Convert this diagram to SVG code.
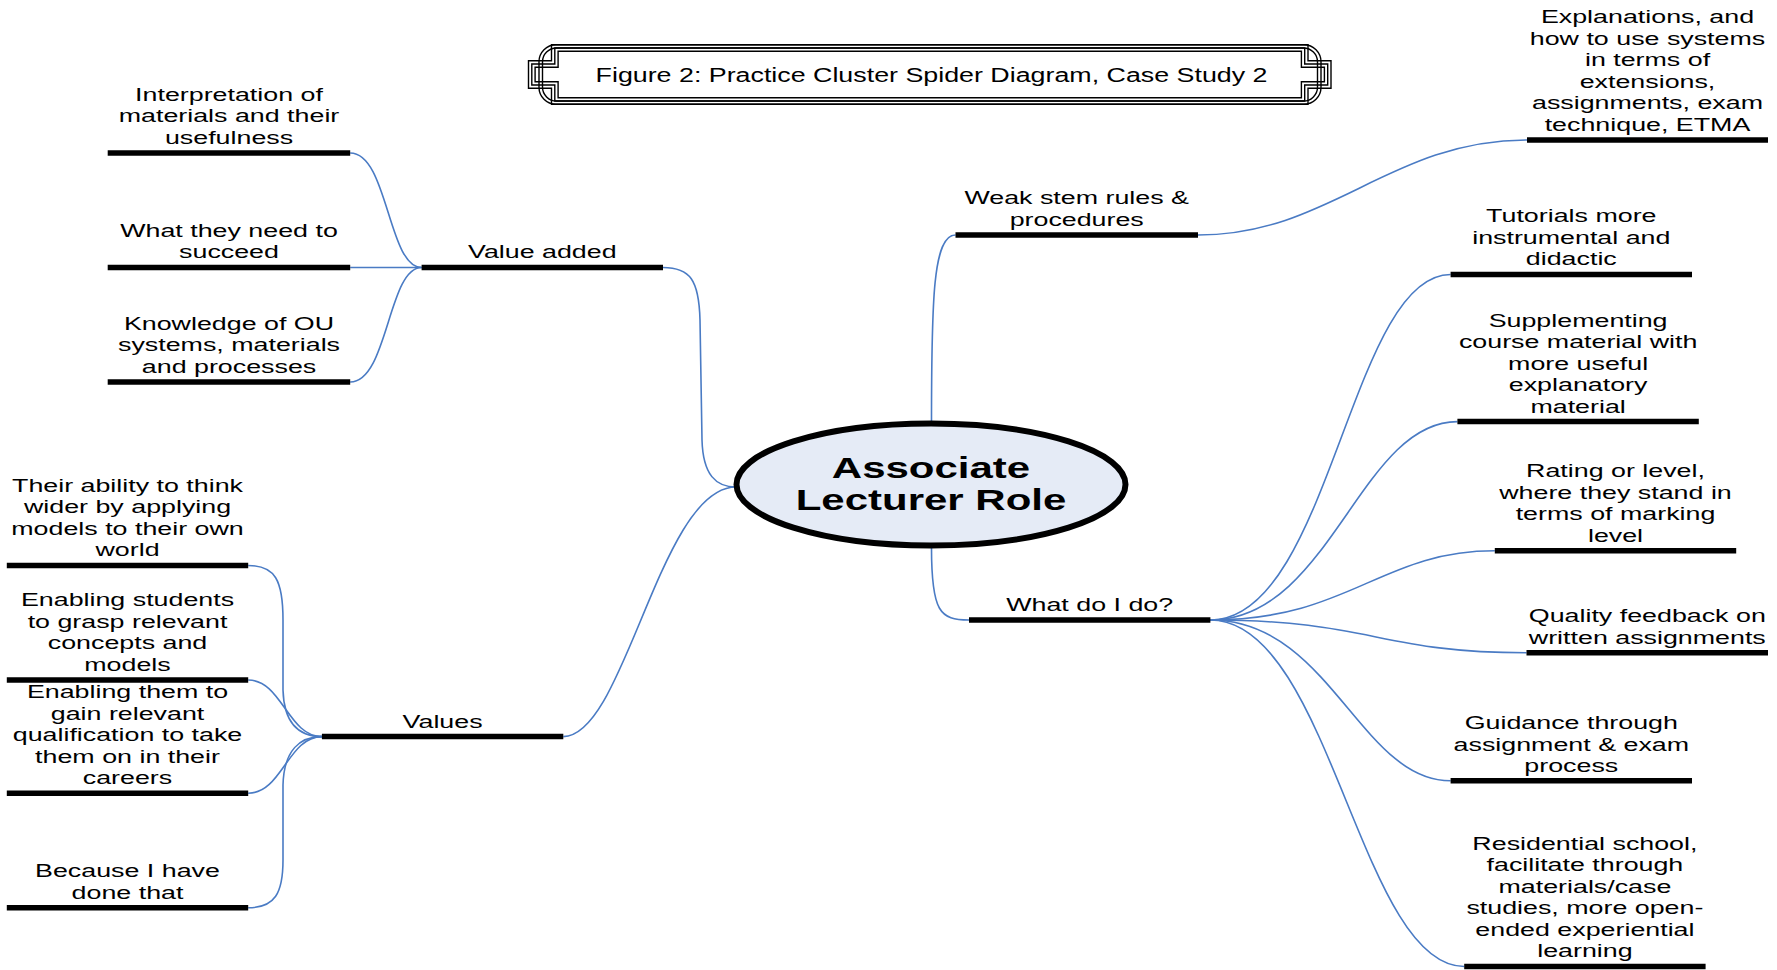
<svg xmlns="http://www.w3.org/2000/svg" width="1777" height="970" viewBox="0 0 1777 970">
<style>
.t{font-family:"Liberation Sans",Arial,sans-serif;font-size:18.5px;fill:#000;text-anchor:middle}
.c{font-family:"Liberation Sans",Arial,sans-serif;font-size:30px;font-weight:bold;fill:#000;text-anchor:middle}
.ti{font-family:"Liberation Sans",Arial,sans-serif;font-size:19.5px;fill:#000;text-anchor:middle}
.bar{stroke:#000;stroke-width:5.5;fill:none}
.fr{stroke:#000;stroke-width:1.4;fill:none;stroke-linejoin:miter}
#connectors path{fill:none;stroke:#4A7BC4;stroke-width:1.6}
</style>
<rect width="1777" height="970" fill="#fff"/>

<g id="title">
<polygon class="fr" points="551.5,44.7 1308,44.7 1308,60.7 1331,60.7 1331,88.3 1308,88.3 1308,104.3 551.5,104.3 551.5,88.3 528.5,88.3 528.5,60.7 551.5,60.7"/>
<polygon class="fr" points="554.8,48 1304.7,48 1304.7,64 1327.7,64 1327.7,85 1304.7,85 1304.7,101 554.8,101 554.8,85 531.8,85 531.8,64 554.8,64"/>
<polygon class="fr" points="558.1,51.3 1301.4,51.3 1301.4,67.3 1324.4,67.3 1324.4,81.7 1301.4,81.7 1301.4,97.7 558.1,97.7 558.1,81.7 535.1,81.7 535.1,67.3 558.1,67.3"/>
<rect class="fr" x="539" y="44.7" width="782" height="59.6" rx="17" ry="17"/>
<rect class="fr" x="542.5" y="48" width="775" height="53" rx="14" ry="14"/>
<text class="ti" transform="translate(931.5 0) scale(1.375 1)"><tspan x="0" y="82">Figure 2: Practice Cluster Spider Diagram, Case Study 2</tspan></text>
</g>

<g id="connectors">
<path d="M931.5,423 C931.5,300 933,235 955.5,235"/>
<path d="M1198,235 C1330,235 1390,140 1527,140"/>
<path d="M931.5,548 C931.5,612 940,620 969,620"/>
<path d="M663,267.5 C690,267.5 699,280 700,320 L702,440 C703,475 716,487 736,487"/>
<path d="M563.3,736.6 C625,736.6 660,487 736,487"/>
<path d="M350.2,153 C388,153 388,267.5 421.6,267.5"/>
<path d="M350.2,267.5 L421.6,267.5"/>
<path d="M350.2,382 C388,382 388,267.5 421.6,267.5"/>
<path d="M248.2,565.5 C275,565.5 283,580 283,620 L283,690 C284,725 300,736.6 321.9,736.6"/>
<path d="M248.2,680 C282,680 288,736.6 321.9,736.6"/>
<path d="M248.2,793.3 C282,793.3 288,736.6 321.9,736.6"/>
<path d="M248.2,907.8 C275,907.8 283,893 283,860 L283,785 C284,750 300,736.6 321.9,736.6"/>
<path d="M1210.4,620 C1330,620 1350,274.5 1450.6,274.5"/>
<path d="M1210.4,620 C1330,620 1360,421.6 1457.4,421.6"/>
<path d="M1210.4,620 C1350,620 1380,550.8 1494.8,550.8"/>
<path d="M1210.4,620 C1370,620 1380,652.8 1526.5,652.8"/>
<path d="M1210.4,620 C1330,620 1360,780.8 1450.6,780.8"/>
<path d="M1210.4,620 C1330,620 1360,966.5 1464.2,966.5"/>
</g>

<g id="center">
<ellipse cx="931" cy="484.5" rx="194.5" ry="61" fill="#E5EBF6" stroke="#000" stroke-width="6"/>
<text class="c" transform="translate(931 0) scale(1.4 1)"><tspan x="0" y="478.5">Associate</tspan><tspan x="0" y="510">Lecturer Role</tspan></text>
</g>

<g id="weak-stem">
<line class="bar" x1="955.5" y1="235" x2="1198" y2="235"/>
<text class="t" transform="translate(1076.7 0) scale(1.45 1)"><tspan x="0" y="204.5">Weak stem rules &amp;</tspan><tspan x="0" y="226">procedures</tspan></text>
</g>

<g id="explanations">
<line class="bar" x1="1527" y1="140" x2="1768" y2="140"/>
<text class="t" transform="translate(1647.5 0) scale(1.45 1)"><tspan x="0" y="23.5">Explanations, and</tspan><tspan x="0" y="45">how to use systems</tspan><tspan x="0" y="66.5">in terms of</tspan><tspan x="0" y="88">extensions,</tspan><tspan x="0" y="109.5">assignments, exam</tspan><tspan x="0" y="131">technique, ETMA</tspan></text>
</g>

<g id="value-added">
<line class="bar" x1="421.6" y1="267.5" x2="663" y2="267.5"/>
<text class="t" transform="translate(542.3 0) scale(1.45 1)"><tspan x="0" y="258.5">Value added</tspan></text>
</g>

<g id="interpretation">
<line class="bar" x1="107.7" y1="153" x2="350.2" y2="153"/>
<text class="t" transform="translate(229 0) scale(1.45 1)"><tspan x="0" y="101">Interpretation of</tspan><tspan x="0" y="122.5">materials and their</tspan><tspan x="0" y="144">usefulness</tspan></text>
</g>

<g id="what-they-need">
<line class="bar" x1="107.7" y1="267.5" x2="350.2" y2="267.5"/>
<text class="t" transform="translate(229 0) scale(1.45 1)"><tspan x="0" y="237">What they need to</tspan><tspan x="0" y="258.5">succeed</tspan></text>
</g>

<g id="knowledge">
<line class="bar" x1="107.7" y1="382" x2="350.2" y2="382"/>
<text class="t" transform="translate(229 0) scale(1.45 1)"><tspan x="0" y="330">Knowledge of OU</tspan><tspan x="0" y="351.5">systems, materials</tspan><tspan x="0" y="373">and processes</tspan></text>
</g>

<g id="values">
<line class="bar" x1="321.9" y1="736.6" x2="563.3" y2="736.6"/>
<text class="t" transform="translate(442.6 0) scale(1.45 1)"><tspan x="0" y="727.6">Values</tspan></text>
</g>

<g id="ability">
<line class="bar" x1="6.8" y1="565.5" x2="248.2" y2="565.5"/>
<text class="t" transform="translate(127.5 0) scale(1.45 1)"><tspan x="0" y="492">Their ability to think</tspan><tspan x="0" y="513.5">wider by applying</tspan><tspan x="0" y="535">models to their own</tspan><tspan x="0" y="556.5">world</tspan></text>
</g>

<g id="enabling-students">
<line class="bar" x1="6.8" y1="680" x2="248.2" y2="680"/>
<text class="t" transform="translate(127.5 0) scale(1.45 1)"><tspan x="0" y="606.5">Enabling students</tspan><tspan x="0" y="628">to grasp relevant</tspan><tspan x="0" y="649.5">concepts and</tspan><tspan x="0" y="671">models</tspan></text>
</g>

<g id="enabling-them">
<line class="bar" x1="6.8" y1="793.3" x2="248.2" y2="793.3"/>
<text class="t" transform="translate(127.5 0) scale(1.45 1)"><tspan x="0" y="698.3">Enabling them to</tspan><tspan x="0" y="719.8">gain relevant</tspan><tspan x="0" y="741.3">qualification to take</tspan><tspan x="0" y="762.8">them on in their</tspan><tspan x="0" y="784.3">careers</tspan></text>
</g>

<g id="because">
<line class="bar" x1="6.8" y1="907.8" x2="248.2" y2="907.8"/>
<text class="t" transform="translate(127.5 0) scale(1.45 1)"><tspan x="0" y="877.3">Because I have</tspan><tspan x="0" y="898.8">done that</tspan></text>
</g>

<g id="what-do-i-do">
<line class="bar" x1="969" y1="620" x2="1210.4" y2="620"/>
<text class="t" transform="translate(1089.7 0) scale(1.45 1)"><tspan x="0" y="611">What do I do?</tspan></text>
</g>

<g id="tutorials">
<line class="bar" x1="1450.6" y1="274.5" x2="1692" y2="274.5"/>
<text class="t" transform="translate(1571.3 0) scale(1.45 1)"><tspan x="0" y="222.5">Tutorials more</tspan><tspan x="0" y="244">instrumental and</tspan><tspan x="0" y="265.5">didactic</tspan></text>
</g>

<g id="supplementing">
<line class="bar" x1="1457.4" y1="421.6" x2="1698.8" y2="421.6"/>
<text class="t" transform="translate(1578.1 0) scale(1.45 1)"><tspan x="0" y="326.6">Supplementing</tspan><tspan x="0" y="348.1">course material with</tspan><tspan x="0" y="369.6">more useful</tspan><tspan x="0" y="391.1">explanatory</tspan><tspan x="0" y="412.6">material</tspan></text>
</g>

<g id="rating">
<line class="bar" x1="1494.8" y1="550.8" x2="1736.2" y2="550.8"/>
<text class="t" transform="translate(1615.5 0) scale(1.45 1)"><tspan x="0" y="477.3">Rating or level,</tspan><tspan x="0" y="498.8">where they stand in</tspan><tspan x="0" y="520.3">terms of marking</tspan><tspan x="0" y="541.8">level</tspan></text>
</g>

<g id="quality">
<line class="bar" x1="1526.5" y1="652.8" x2="1768" y2="652.8"/>
<text class="t" transform="translate(1647.3 0) scale(1.45 1)"><tspan x="0" y="622.3">Quality feedback on</tspan><tspan x="0" y="643.8">written assignments</tspan></text>
</g>

<g id="guidance">
<line class="bar" x1="1450.6" y1="780.8" x2="1692" y2="780.8"/>
<text class="t" transform="translate(1571.3 0) scale(1.45 1)"><tspan x="0" y="729.3">Guidance through</tspan><tspan x="0" y="750.8">assignment &amp; exam</tspan><tspan x="0" y="772.3">process</tspan></text>
</g>

<g id="residential">
<line class="bar" x1="1464.2" y1="966.5" x2="1705.6" y2="966.5"/>
<text class="t" transform="translate(1584.9 0) scale(1.45 1)"><tspan x="0" y="850">Residential school,</tspan><tspan x="0" y="871.5">facilitate through</tspan><tspan x="0" y="893">materials/case</tspan><tspan x="0" y="914.5">studies, more open-</tspan><tspan x="0" y="936">ended experiential</tspan><tspan x="0" y="957.5">learning</tspan></text>
</g>
</svg>
